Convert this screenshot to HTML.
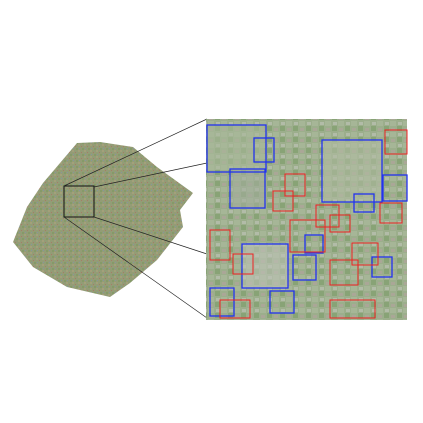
<!DOCTYPE html>
<html><head><meta charset="utf-8"><style>
html,body{margin:0;padding:0;background:#fff;}
svg{display:block;}
</style></head><body>
<svg width="423" height="423" viewBox="0 0 423 423">
<defs>
<pattern id="tex" width="6" height="6" patternUnits="userSpaceOnUse">
<rect width="6" height="6" fill="#939c76"/>
<rect x="0" y="0" width="2" height="2" fill="#a3a07a"/>
<rect x="3" y="2" width="1" height="1" fill="#a87a66"/>
<rect x="1" y="4" width="1" height="1" fill="#8596a0"/>
<rect x="4" y="4" width="2" height="2" fill="#859a68"/>
</pattern>
<pattern id="tex2" width="13" height="11" patternUnits="userSpaceOnUse">
<rect width="13" height="11" fill="#9cae8c"/>
<rect x="0" y="0" width="6" height="5" fill="#a6b697"/>
<rect x="7" y="5" width="5" height="5" fill="#88a376"/>
<rect x="1" y="7" width="4" height="3" fill="#aaa797"/>
<rect x="8" y="1" width="4" height="3" fill="#b2bca8"/>
</pattern>
</defs>
<polygon fill="url(#tex)" points="13,242 27,207 43,183 77,143 100,142 133,147 157,167 193,193 180,210 183,227 157,260 130,283 110,297 67,287 33,267"/>
<rect x="64" y="186" width="30" height="31" fill="none" stroke="#111" stroke-width="1"/>
<g stroke="#222" stroke-width="0.7">
<line x1="64" y1="186" x2="207" y2="119"/>
<line x1="94" y1="187" x2="207" y2="163"/>
<line x1="94" y1="217" x2="207" y2="254"/>
<line x1="64" y1="217" x2="207" y2="318"/>
</g>
<g>
<rect x="206" y="119" width="201" height="201" fill="url(#tex2)"/>
<rect x="208" y="126" width="56" height="44" fill="#a9b79a" opacity="0.6"/>
<rect x="322" y="140" width="60" height="60" fill="#b1baa2" opacity="0.6"/>
<rect x="242" y="244" width="46" height="44" fill="#bcc2b6" opacity="0.6"/>
<rect x="230" y="169" width="35" height="39" fill="#a4ae9c" opacity="0.6"/>
<g fill="none" stroke="#2233ee" stroke-width="1.3">
<rect x="207" y="125" width="59" height="47"/>
<rect x="254" y="138" width="20" height="24"/>
<rect x="230" y="169" width="35" height="39"/>
<rect x="322" y="140" width="60" height="62"/>
<rect x="354" y="194" width="20" height="18"/>
<rect x="305" y="235" width="18" height="18"/>
<rect x="242" y="244" width="46" height="44"/>
<rect x="293" y="255" width="23" height="25"/>
<rect x="372" y="257" width="20" height="20"/>
<rect x="210" y="288" width="24" height="28"/>
<rect x="270" y="291" width="24" height="22"/>
<rect x="383" y="175" width="24" height="26"/>
</g>
<g fill="none" stroke="#ee2222" stroke-width="1">
<rect x="285" y="174" width="20" height="22"/>
<rect x="273" y="191" width="20" height="20"/>
<rect x="316" y="205" width="23" height="22"/>
<rect x="330" y="215" width="20" height="17"/>
<rect x="380" y="203" width="22" height="20"/>
<rect x="290" y="220" width="35" height="32"/>
<rect x="210" y="230" width="20" height="30"/>
<rect x="233" y="254" width="20" height="20"/>
<rect x="330" y="260" width="28" height="25"/>
<rect x="352" y="243" width="26" height="22"/>
<rect x="220" y="300" width="30" height="18"/>
<rect x="330" y="300" width="45" height="18"/>
<rect x="385" y="130" width="22" height="24"/>
</g>
</g>
</svg>
</body></html>
